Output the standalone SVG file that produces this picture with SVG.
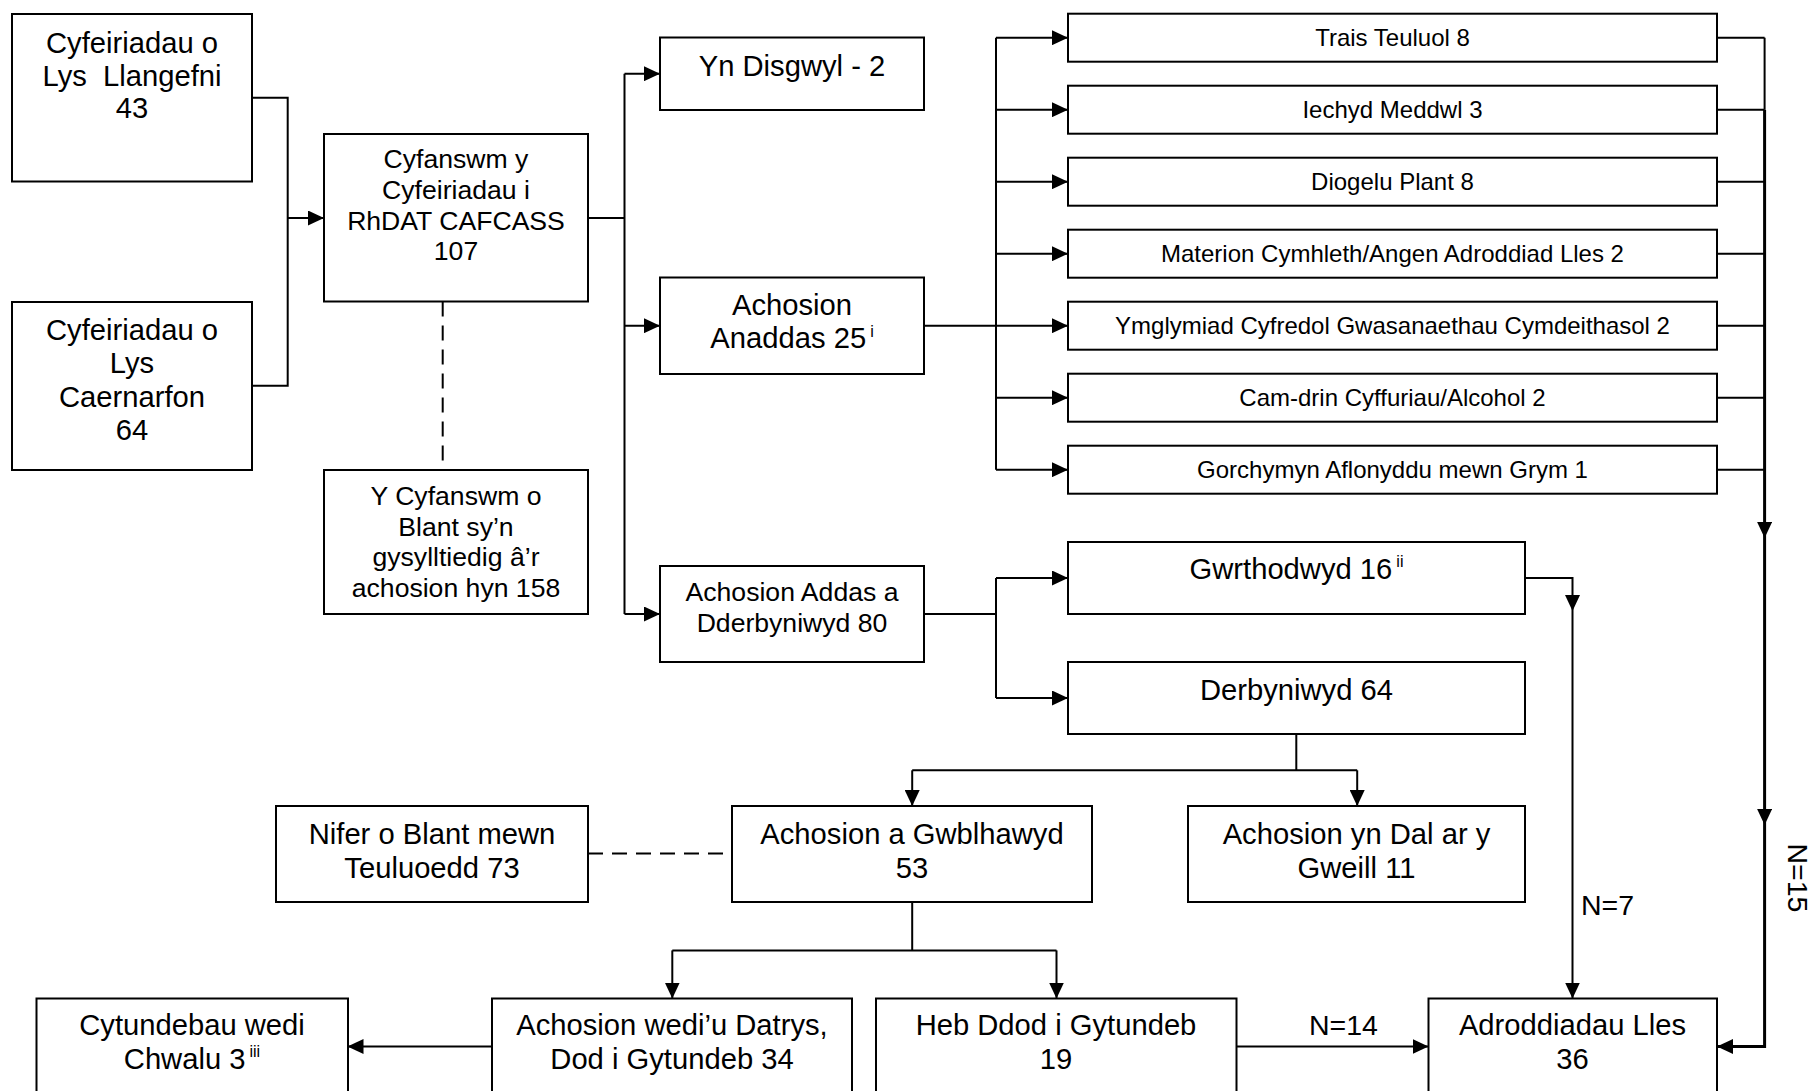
<svg xmlns="http://www.w3.org/2000/svg" width="1816" height="1091" viewBox="0 0 1816 1091">
<style>
.box{fill:#fff;stroke:#000;stroke-width:2}
.t{font-family:"Liberation Sans",Arial,sans-serif;fill:#000;text-anchor:middle}
.lbl{font-family:"Liberation Sans",Arial,sans-serif;fill:#000;font-size:28.5px}
.big{font-size:29.2px}.med{font-size:26.6px}.sm{font-size:24px}
.sup{font-size:16px}
.ln{fill:none;stroke:#000;stroke-width:2}
.thick{stroke-width:3}
.dash{stroke-dasharray:15 9}
</style>
<defs>
<marker id="ah" viewBox="0 0 10 10" refX="10" refY="5" markerWidth="16" markerHeight="15" markerUnits="userSpaceOnUse" orient="auto" preserveAspectRatio="none"><path d="M0,0 L10,5 L0,10 z" fill="#000"/></marker>
</defs>
<rect width="1816" height="1091" fill="#fff"/>
<g id="connectors">
<path class="ln" d="M252 97.7 H287.7 V385.7 H252"/>
<path class="ln" d="M287.7 218 H324" marker-end="url(#ah)"/>
<path class="ln dash" d="M442.7 301.5 V470"/>
<path class="ln" d="M588 218 H624.5 M624.5 73.7 V614"/>
<path class="ln" d="M624.5 73.7 H660" marker-end="url(#ah)"/>
<path class="ln" d="M624.5 325.7 H660" marker-end="url(#ah)"/>
<path class="ln" d="M624.5 614 H660" marker-end="url(#ah)"/>
<path class="ln" d="M924 325.7 H996 M996 37.7 V469.7"/>
<path class="ln" d="M996 37.7 H1068" marker-end="url(#ah)"/>
<path class="ln" d="M996 109.7 H1068" marker-end="url(#ah)"/>
<path class="ln" d="M996 181.7 H1068" marker-end="url(#ah)"/>
<path class="ln" d="M996 253.7 H1068" marker-end="url(#ah)"/>
<path class="ln" d="M996 325.7 H1068" marker-end="url(#ah)"/>
<path class="ln" d="M996 397.7 H1068" marker-end="url(#ah)"/>
<path class="ln" d="M996 469.7 H1068" marker-end="url(#ah)"/>
<path class="ln" d="M1717 37.7 H1764.6 M1717 109.7 H1764.6 M1717 181.7 H1764.6 M1717 253.7 H1764.6 M1717 325.7 H1764.6 M1717 397.7 H1764.6 M1717 469.7 H1764.6"/>
<path class="ln" d="M1764.6 37.7 V109.7"/>
<path class="ln thick" d="M1764.6 109.7 V538" marker-end="url(#ah)"/>
<path class="ln thick" d="M1764.6 538 V825" marker-end="url(#ah)"/>
<path class="ln thick" d="M1764.6 825 V1046.5 H1717" marker-end="url(#ah)"/>
<path class="ln" d="M924 614 H996 M996 578 V698"/>
<path class="ln" d="M996 578 H1068" marker-end="url(#ah)"/>
<path class="ln" d="M996 698 H1068" marker-end="url(#ah)"/>
<path class="ln" d="M1525 578 H1572.5 V611" marker-end="url(#ah)"/>
<path class="ln" d="M1572.5 611 V998.5" marker-end="url(#ah)"/>
<path class="ln" d="M1296.3 734 V770.3 M912.2 770.3 H1357.2"/>
<path class="ln" d="M912.2 770.3 V806" marker-end="url(#ah)"/>
<path class="ln" d="M1357.2 770.3 V806" marker-end="url(#ah)"/>
<path class="ln dash" d="M588 853.5 H732"/>
<path class="ln" d="M912.2 902 V950.4 M672.3 950.4 H1056.5"/>
<path class="ln" d="M672.3 950.4 V998.5" marker-end="url(#ah)"/>
<path class="ln" d="M1056.5 950.4 V998.5" marker-end="url(#ah)"/>
<path class="ln" d="M492 1046.5 H347.5" marker-end="url(#ah)"/>
<path class="ln" d="M1236.5 1046.5 H1428.5" marker-end="url(#ah)"/>
<text class="lbl" x="1581" y="914.5">N=7</text>
<text class="lbl" x="1309" y="1035.3">N=14</text>
<text class="lbl" text-anchor="middle" transform="translate(1788 878) rotate(90)">N=15</text>
</g>
<g id="n-llangefni">
<rect class="box" x="12" y="14" width="240" height="167.5"/>
<text class="t big" x="132" y="52.7">Cyfeiriadau o</text>
<text class="t big" x="132" y="85.5" xml:space="preserve">Lys  Llangefni</text>
<text class="t big" x="132" y="118.3">43</text>
</g>
<g id="n-caernarfon">
<rect class="box" x="12" y="302" width="240" height="168"/>
<text class="t big" x="132" y="340">Cyfeiriadau o</text>
<text class="t big" x="132" y="373.3">Lys</text>
<text class="t big" x="132" y="406.7">Caernarfon</text>
<text class="t big" x="132" y="440">64</text>
</g>
<g id="n-cyfanswm">
<rect class="box" x="324" y="134" width="264" height="167.5"/>
<text class="t med" x="456" y="168.3">Cyfanswm y</text>
<text class="t med" x="456" y="199">Cyfeiriadau i</text>
<text class="t med" x="456" y="229.7">RhDAT CAFCASS</text>
<text class="t med" x="456" y="260.4">107</text>
</g>
<g id="n-plant">
<rect class="box" x="324" y="470" width="264" height="144"/>
<text class="t med" x="456" y="505.3">Y Cyfanswm o</text>
<text class="t med" x="456" y="536">Blant sy’n</text>
<text class="t med" x="456" y="566.3">gysylltiedig â’r</text>
<text class="t med" x="456" y="597">achosion hyn 158</text>
</g>
<g id="n-disgwyl">
<rect class="box" x="660" y="37.5" width="264" height="72.5"/>
<text class="t big" x="792" y="76">Yn Disgwyl - 2</text>
</g>
<g id="n-anaddas">
<rect class="box" x="660" y="277.5" width="264" height="96.5"/>
<text class="t big" x="792" y="315">Achosion</text>
<text class="t big" x="792" y="348.3">Anaddas 25<tspan class="sup" dx="4" dy="-11">i</tspan></text>
</g>
<g id="n-addas">
<rect class="box" x="660" y="566" width="264" height="96"/>
<text class="t med" x="792" y="600.8">Achosion Addas a</text>
<text class="t med" x="792" y="632">Dderbyniwyd 80</text>
</g>
<g id="n-trais"><rect class="box" x="1068" y="13.7" width="649" height="48"/><text class="t sm" x="1392.5" y="46.4">Trais Teuluol 8</text></g>
<g id="n-iechyd"><rect class="box" x="1068" y="85.7" width="649" height="48"/><text class="t sm" x="1392.5" y="118.4">Iechyd Meddwl 3</text></g>
<g id="n-diogelu"><rect class="box" x="1068" y="157.7" width="649" height="48"/><text class="t sm" x="1392.5" y="190.4">Diogelu Plant 8</text></g>
<g id="n-materion"><rect class="box" x="1068" y="229.7" width="649" height="48"/><text class="t sm" x="1392.5" y="262.4">Materion Cymhleth/Angen Adroddiad Lles 2</text></g>
<g id="n-ymglymiad"><rect class="box" x="1068" y="301.7" width="649" height="48"/><text class="t sm" x="1392.5" y="334.4">Ymglymiad Cyfredol Gwasanaethau Cymdeithasol 2</text></g>
<g id="n-camdrin"><rect class="box" x="1068" y="373.7" width="649" height="48"/><text class="t sm" x="1392.5" y="406.4">Cam-drin Cyffuriau/Alcohol 2</text></g>
<g id="n-gorchymyn"><rect class="box" x="1068" y="445.7" width="649" height="48"/><text class="t sm" x="1392.5" y="478.4">Gorchymyn Aflonyddu mewn Grym 1</text></g>
<g id="n-gwrthodwyd">
<rect class="box" x="1068" y="542" width="457" height="72"/>
<text class="t big" x="1296.5" y="579.4">Gwrthodwyd 16<tspan class="sup" dx="4" dy="-12">ii</tspan></text>
</g>
<g id="n-derbyniwyd">
<rect class="box" x="1068" y="662" width="457" height="72"/>
<text class="t big" x="1296.5" y="700.2">Derbyniwyd 64</text>
</g>
<g id="n-nifer">
<rect class="box" x="276" y="806" width="312" height="96"/>
<text class="t big" x="432" y="844.4">Nifer o Blant mewn</text>
<text class="t big" x="432" y="877.5">Teuluoedd 73</text>
</g>
<g id="n-gwblhawyd">
<rect class="box" x="732" y="806" width="360" height="96"/>
<text class="t big" x="912" y="844.4">Achosion a Gwblhawyd</text>
<text class="t big" x="912" y="877.5">53</text>
</g>
<g id="n-gweill">
<rect class="box" x="1188" y="806" width="337" height="96"/>
<text class="t big" x="1356.5" y="844.4">Achosion yn Dal ar y</text>
<text class="t big" x="1356.5" y="877.5">Gweill 11</text>
</g>
<g id="n-chwalu">
<rect class="box" x="36.5" y="998.5" width="311.5" height="100"/>
<text class="t big" x="192" y="1035.3">Cytundebau wedi</text>
<text class="t big" x="192" y="1068.5">Chwalu 3<tspan class="sup" dx="4" dy="-12">iii</tspan></text>
</g>
<g id="n-datrys">
<rect class="box" x="492" y="998.5" width="360" height="100"/>
<text class="t big" x="672" y="1035.3">Achosion wedi’u Datrys,</text>
<text class="t big" x="672" y="1068.5">Dod i Gytundeb 34</text>
</g>
<g id="n-heb">
<rect class="box" x="876" y="998.5" width="360.5" height="100"/>
<text class="t big" x="1056" y="1035.3">Heb Ddod i Gytundeb</text>
<text class="t big" x="1056" y="1068.5">19</text>
</g>
<g id="n-adroddiadau">
<rect class="box" x="1428.5" y="998.5" width="288.5" height="100"/>
<text class="t big" x="1572.5" y="1035.3">Adroddiadau Lles</text>
<text class="t big" x="1572.5" y="1068.5">36</text>
</g>
</svg>
